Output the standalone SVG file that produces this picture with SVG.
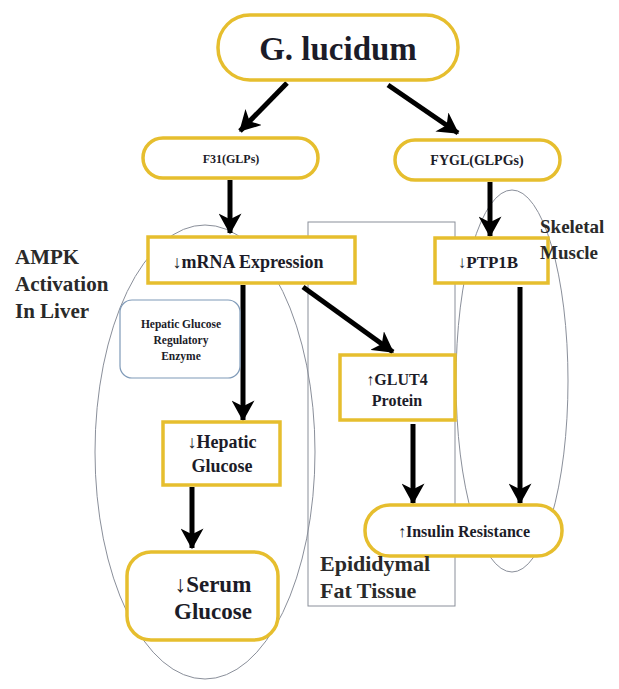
<svg xmlns="http://www.w3.org/2000/svg" width="619" height="689" viewBox="0 0 619 689">
<defs>
<marker id="ah" viewBox="0 0 10 10" refX="8.5" refY="5" markerWidth="4.6" markerHeight="4.6" orient="auto" markerUnits="strokeWidth">
<path d="M0,0 L9,5 L0,10 L2.5,5 Z" fill="#000"/>
</marker>
<style>
.y{fill:#fff;stroke:#E6BE2E;stroke-width:3.5}
.t{font-family:"Liberation Serif","DejaVu Serif",serif;font-weight:bold;fill:#1c1c28;text-anchor:middle}
.l{font-family:"Liberation Serif","DejaVu Serif",serif;font-weight:bold;fill:#2a2a2a}
.c{stroke:#000;stroke-width:5;fill:none;marker-end:url(#ah)}
.g{fill:none;stroke:#8a8f9a;stroke-width:1}
</style>
</defs>
<rect width="619" height="689" fill="#fff"/>
<g id="regions">
<rect class="g" x="308" y="222" width="147" height="384"/>
<ellipse class="g" cx="205" cy="452" rx="110" ry="227" stroke="#8a92a8"/>
<ellipse class="g" cx="512" cy="381" rx="56" ry="191" stroke="#8a92b0"/>
</g>
<g id="connectors">
<line class="c" x1="287" y1="83" x2="240" y2="131"/>
<line class="c" x1="388" y1="85" x2="458" y2="133"/>
<line class="c" x1="230" y1="180" x2="230" y2="233"/>
<line class="c" x1="490" y1="182" x2="490" y2="236"/>
<line class="c" x1="243" y1="285" x2="243" y2="420"/>
<line class="c" x1="303" y1="287" x2="393" y2="352"/>
<line class="c" x1="192" y1="487" x2="192" y2="548"/>
<line class="c" x1="413" y1="424" x2="413" y2="503"/>
<line class="c" x1="520" y1="287" x2="520" y2="503"/>
</g>
<g id="g-lucidum">
<rect class="y" x="218" y="15" width="240" height="65" rx="32"/>
<text class="t" x="338" y="60" font-size="33">G. lucidum</text>
</g>
<g id="f31">
<rect class="y" x="143" y="138" width="175" height="40" rx="20"/>
<text class="t" x="231" y="163" font-size="12">F31(GLPs)</text>
</g>
<g id="fygl">
<rect class="y" x="395" y="140" width="165" height="40" rx="20"/>
<text class="t" x="477" y="165" font-size="14">FYGL(GLPGs)</text>
</g>
<g id="mrna">
<rect class="y" x="148" y="237" width="207" height="46"/>
<text class="t" x="248" y="268" font-size="18">↓mRNA Expression</text>
</g>
<g id="ptp1b">
<rect class="y" x="435" y="238" width="113" height="45"/>
<text class="t" x="488" y="268" font-size="17">↓PTP1B</text>
</g>
<g id="enzyme">
<rect x="120" y="300" width="120" height="78" rx="12" fill="#fff" stroke="#7f9ab8" stroke-width="1.2"/>
<text class="t" x="181" y="328" font-size="11.5">Hepatic Glucose</text>
<text class="t" x="181" y="344" font-size="11.5">Regulatory</text>
<text class="t" x="181" y="360" font-size="11.5">Enzyme</text>
</g>
<g id="glut4">
<rect class="y" x="340" y="355" width="115" height="65"/>
<text class="t" x="397" y="385" font-size="16">↑GLUT4</text>
<text class="t" x="397" y="406" font-size="16">Protein</text>
</g>
<g id="hepatic">
<rect class="y" x="163" y="422" width="117" height="63"/>
<text class="t" x="222" y="448" font-size="18">↓Hepatic</text>
<text class="t" x="222" y="472" font-size="18">Glucose</text>
</g>
<g id="insulin">
<rect class="y" x="365" y="505" width="197" height="51" rx="25"/>
<text class="t" x="464" y="537" font-size="16">↑Insulin Resistance</text>
</g>
<g id="serum">
<rect class="y" x="127" y="552" width="151" height="88" rx="24"/>
<text class="t" x="213" y="592" font-size="23">↓Serum</text>
<text class="t" x="213" y="619" font-size="23">Glucose</text>
</g>
<g id="labels">
<text class="l" x="15" y="264" font-size="21">AMPK</text>
<text class="l" x="15" y="291" font-size="21">Activation</text>
<text class="l" x="15" y="318" font-size="21">In Liver</text>
<text class="l" x="540" y="233" font-size="19">Skeletal</text>
<text class="l" x="540" y="259" font-size="19">Muscle</text>
<text class="l" x="320" y="571" font-size="22">Epididymal</text>
<text class="l" x="320" y="598" font-size="22">Fat Tissue</text>
</g>
</svg>
